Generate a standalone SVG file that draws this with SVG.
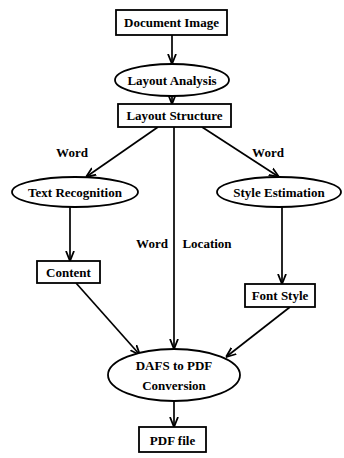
<svg xmlns="http://www.w3.org/2000/svg" width="344" height="458" viewBox="0 0 344 458">
<style>
.n{fill:#fff;stroke:#000;stroke-width:1.8}
.t{font-family:"Liberation Serif","Times New Roman",serif;font-weight:bold;font-size:13px;fill:#000;text-anchor:middle}
.c{fill:none;stroke:#000;stroke-width:1.7}
</style>
<defs>
<marker id="a" viewBox="0 0 10 10" refX="10" refY="5" markerWidth="10" markerHeight="10" orient="auto" markerUnits="userSpaceOnUse">
<path d="M0,1 L10,5 L0,9" fill="none" stroke="#000" stroke-width="1.8"/>
</marker>
</defs>
<g id="connectors">
<line class="c" x1="172" y1="35" x2="172" y2="64" marker-end="url(#a)"/>
<line class="c" x1="172" y1="96" x2="172" y2="104" marker-end="url(#a)"/>
<line class="c" x1="158" y1="127" x2="86" y2="177" marker-end="url(#a)"/>
<line class="c" x1="202" y1="127" x2="279" y2="177" marker-end="url(#a)"/>
<line class="c" x1="174" y1="127" x2="174" y2="349" marker-end="url(#a)"/>
<line class="c" x1="70" y1="207" x2="70" y2="261" marker-end="url(#a)"/>
<line class="c" x1="282" y1="207" x2="282" y2="284" marker-end="url(#a)"/>
<line class="c" x1="76" y1="283" x2="140" y2="355" marker-end="url(#a)"/>
<line class="c" x1="290" y1="307" x2="226" y2="357" marker-end="url(#a)"/>
<line class="c" x1="174" y1="401" x2="174" y2="427" marker-end="url(#a)"/>
<text class="t" x="72" y="157">Word</text>
<text class="t" x="268" y="157">Word</text>
<text class="t" x="152" y="248">Word</text>
<text class="t" x="207" y="248">Location</text>
</g>
<g id="document-image">
<rect class="n" x="116" y="10" width="111" height="25"/>
<text class="t" x="171.5" y="27">Document Image</text>
</g>
<g id="layout-analysis">
<ellipse class="n" cx="172" cy="80" rx="57" ry="16"/>
<text class="t" x="172" y="84.5">Layout Analysis</text>
</g>
<g id="layout-structure">
<rect class="n" x="118" y="104" width="113" height="23"/>
<text class="t" x="174.5" y="120">Layout Structure</text>
</g>
<g id="text-recognition">
<ellipse class="n" cx="75" cy="192" rx="63" ry="15"/>
<text class="t" x="75" y="196.5">Text Recognition</text>
</g>
<g id="style-estimation">
<ellipse class="n" cx="279" cy="192" rx="62" ry="15"/>
<text class="t" x="279" y="196.5">Style Estimation</text>
</g>
<g id="content">
<rect class="n" x="37" y="261" width="63" height="22"/>
<text class="t" x="68.5" y="276.5">Content</text>
</g>
<g id="font-style">
<rect class="n" x="245" y="284" width="70" height="23"/>
<text class="t" x="280" y="300">Font Style</text>
</g>
<g id="dafs-to-pdf">
<ellipse class="n" cx="174" cy="375" rx="66" ry="26"/>
<text class="t" x="174" y="370">DAFS to PDF</text>
<text class="t" x="174" y="390">Conversion</text>
</g>
<g id="pdf-file">
<rect class="n" x="139" y="427" width="67" height="25"/>
<text class="t" x="172.5" y="444.5">PDF file</text>
</g>
</svg>
